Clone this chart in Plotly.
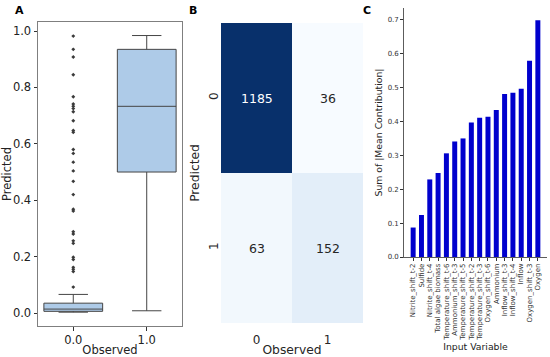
import plotly.graph_objects as go

# ---------- Data ----------
# Panel A: box stats per observed class
box_classes = [0.0, 1.0]
box_q1 = [0.006, 0.50]
box_median = [0.014, 0.733]
box_q3 = [0.035, 0.935]
box_lower = [0.003, 0.008]
box_upper = [0.066, 0.984]
outliers_class0 = [0.982, 0.935, 0.908, 0.845, 0.767, 0.741, 0.733, 0.725, 0.714,
                   0.682, 0.647, 0.641, 0.58, 0.566, 0.535, 0.504, 0.467, 0.42,
                   0.368, 0.362, 0.288, 0.28, 0.256, 0.247, 0.198, 0.19, 0.162,
                   0.155, 0.147, 0.092]

# Panel B: confusion matrix (rows = predicted, cols = observed)
cm_labels = ["0", "1"]
cm_values = [[1185, 36],
             [63, 152]]

# Panel C: feature contributions
feat_names = ["Nitrite_shift_t-2", "Sulfide", "Nitrite_shift_t-4", "Total algae biomass",
              "Temperature_shift_t-6", "Ammonium_shift_t-3", "Temperature_shift_t-5",
              "Temperature_shift_t-2", "Temperature_shift_t-3", "Oxygen_shift_t-6",
              "Ammonium", "Inflow_shift_t-3", "Inflow_shift_t-4", "Inflow",
              "Oxygen_shift_t-3", "Oxygen"]
feat_values = [0.087, 0.124, 0.229, 0.248, 0.306, 0.341, 0.350, 0.397, 0.411,
               0.414, 0.434, 0.481, 0.485, 0.497, 0.579, 0.699]

W, H = 550, 357
FONT = "DejaVu Sans"


def px(x):
    return x / W


def py(y):
    return 1 - y / H


fig = go.Figure()

# ---------- Panel A ----------
fig.add_trace(go.Box(
    x=box_classes, q1=box_q1, median=box_median, q3=box_q3,
    lowerfence=box_lower, upperfence=box_upper,
    width=0.8, whiskerwidth=0.5, boxpoints=False,
    fillcolor="#aecbe8", line=dict(color="#454545", width=1),
    xaxis="x", yaxis="y", showlegend=False, hoverinfo="skip"))
fig.add_trace(go.Scatter(
    x=[box_classes[0]] * len(outliers_class0), y=outliers_class0, mode="markers",
    marker=dict(color="#3a3a3a", size=3, symbol="diamond"),
    xaxis="x", yaxis="y", showlegend=False, hoverinfo="skip"))

# ---------- Panel B ----------
blues = ['rgb(247,251,255)', 'rgb(222,235,247)', 'rgb(198,219,239)', 'rgb(158,202,225)',
         'rgb(107,174,214)', 'rgb(66,146,198)', 'rgb(33,113,181)', 'rgb(8,81,156)', 'rgb(8,48,107)']
cscale = [[i / (len(blues) - 1), c] for i, c in enumerate(blues)]
flat = [v for row in cm_values for v in row]
fig.add_trace(go.Heatmap(
    z=cm_values, x=[0, 1], y=[0, 1], colorscale=cscale,
    zmin=min(flat), zmax=max(flat), showscale=False,
    xaxis="x2", yaxis="y2", hoverinfo="skip"))

annotations = []
thr = (min(flat) + max(flat)) / 2
for i, row in enumerate(cm_values):
    for j, v in enumerate(row):
        annotations.append(dict(
            x=j, y=i, xref="x2", yref="y2", text=str(v), showarrow=False,
            font=dict(family=FONT, size=12.5, color="white" if v > thr else "#262626")))

# ---------- Panel C ----------
fig.add_trace(go.Bar(
    x=list(range(len(feat_names))), y=feat_values, width=0.6,
    marker=dict(color="#0000cd", line=dict(width=0)),
    xaxis="x3", yaxis="y3", showlegend=False, hoverinfo="skip"))

# Panel letters
for letter, xp in [("A", 13), ("B", 187), ("C", 361)]:
    annotations.append(dict(
        x=px(xp), y=py(10), xref="paper", yref="paper", text="<b>%s</b>" % letter,
        showarrow=False, xanchor="left", yanchor="middle",
        font=dict(family=FONT, size=11, color="black")))

fig.update_layout(
    width=W, height=H, margin=dict(l=0, r=0, t=0, b=0, autoexpand=False),
    paper_bgcolor="white", plot_bgcolor="white",
    font=dict(family=FONT, color="black"),
    annotations=annotations,
    xaxis=dict(domain=[px(38), px(182)], range=[-0.48, 1.48], anchor="y", automargin=False,
               tickvals=box_classes, ticktext=["0.0", "1.0"],
               showline=True, mirror=True, linecolor="#7f7f7f", linewidth=1,
               ticks="outside", ticklen=3.5, tickcolor="#333",
               showgrid=False, zeroline=False,
               tickfont=dict(size=11.5, color="#222"),
               title=dict(text="Observed", font=dict(size=11.5, color="#222"), standoff=2)),
    yaxis=dict(domain=[py(326), py(22)], range=[-0.046, 1.032], anchor="x", automargin=False,
               tickvals=[0, 0.2, 0.4, 0.6, 0.8, 1.0], ticktext=["0.0", "0.2", "0.4", "0.6", "0.8", "1.0"],
               showline=True, mirror=True, linecolor="#7f7f7f", linewidth=1,
               ticks="outside", ticklen=3.5, tickcolor="#333",
               showgrid=False, zeroline=False,
               tickfont=dict(size=11.5, color="#222"),
               title=dict(text="Predicted", font=dict(size=11.5, color="#222"), standoff=2)),
    xaxis2=dict(domain=[px(221), px(363)], range=[-0.5, 1.5], anchor="y2", automargin=False,
                tickvals=[0, 1], ticktext=cm_labels, ticks="outside", ticklen=6,
                tickcolor="rgba(0,0,0,0)", showgrid=False,
                zeroline=False, showline=False,
                tickfont=dict(size=12, color="#262626"),
                title=dict(text="Observed", font=dict(size=12.3, color="#262626"), standoff=1)),
    yaxis2=dict(domain=[py(323), py(23)], range=[1.5, -0.5], anchor="x2", automargin=False,
                tickvals=[0, 1], ticktext=cm_labels, ticks="", showgrid=False,
                zeroline=False, showline=False, tickangle=-90,
                tickfont=dict(size=12, color="#262626"),
                title=dict(text="Predicted", font=dict(size=12.3, color="#262626"), standoff=4)),
    xaxis3=dict(domain=[px(404), px(547)], range=[-1.1, 16.1], anchor="y3", automargin=False,
                tickvals=list(range(len(feat_names))), ticktext=feat_names,
                tickangle=-90, ticks="outside", ticklen=3, tickcolor="#333",
                showline=True, linecolor="#333", linewidth=0.8,
                showgrid=False, zeroline=False,
                tickfont=dict(size=7, color="#333"),
                title=dict(text="Input Variable", font=dict(size=9.3, color="#222"), standoff=2)),
    yaxis3=dict(domain=[py(257), py(8)], range=[0, 0.735], anchor="x3", automargin=False,
                tickvals=[0, 0.1, 0.2, 0.3, 0.4, 0.5, 0.6, 0.7],
                ticktext=["0.0", "0.1", "0.2", "0.3", "0.4", "0.5", "0.6", "0.7"],
                ticks="outside", ticklen=3, tickcolor="#333",
                showline=True, linecolor="#333", linewidth=0.8,
                showgrid=False, zeroline=False,
                tickfont=dict(size=7, color="#333"),
                title=dict(text="Sum of |Mean Contribution|", font=dict(size=9.3, color="#222"), standoff=3)),
)

fig.write_html("out.html", config={"displayModeBar": False, "staticPlot": True},
               post_script="document.body.style.margin='0';document.body.style.overflow='hidden';")
